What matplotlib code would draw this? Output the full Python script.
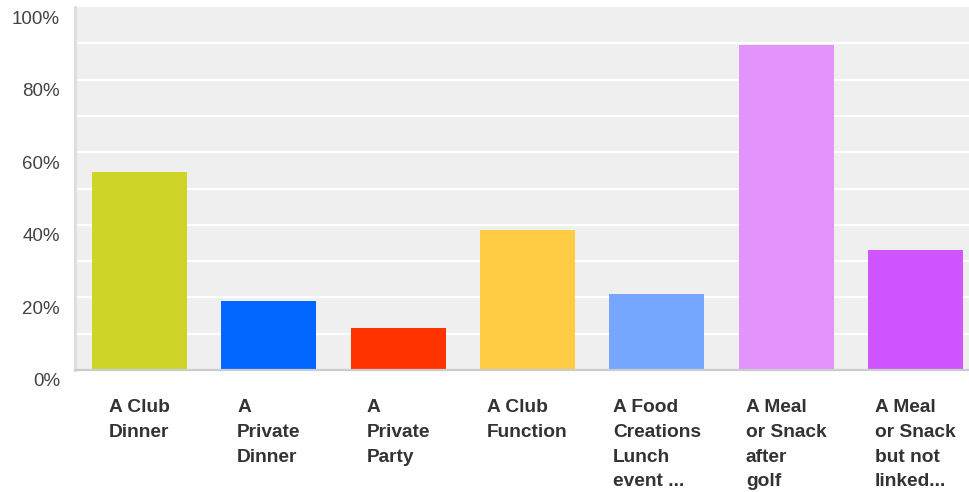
import matplotlib.pyplot as plt
from matplotlib.transforms import offset_copy

# answer options and share of respondents (%)
categories = ['A Club\nDinner', 'A\nPrivate\nDinner', 'A\nPrivate\nParty',
              'A Club\nFunction', 'A Food\nCreations\nLunch\nevent ...',
              'A Meal\nor Snack\nafter\ngolf', 'A Meal\nor Snack\nbut not\nlinked...']
values = [54.5, 19.0, 11.6, 38.6, 20.9, 89.5, 33.1]
colors = ['#cfd428', '#0066ff', '#ff3300', '#ffcc44', '#77a6ff', '#e293fc', '#d155ff']
yticks = [0, 20, 40, 60, 80, 100]
ytick_labels = ['0%', '20%', '40%', '60%', '80%', '100%']

plt.rcParams['font.family'] = ['Liberation Sans', 'DejaVu Sans']

fig = plt.figure(figsize=(9.69, 4.92), dpi=100)
ax = fig.add_axes([75 / 969, 122 / 492, 905 / 969, 363 / 492])
ax.set_facecolor('#efefef')

x = range(len(values))
ax.bar(x, values, width=0.735, color=colors, zorder=3)

ax.set_xlim(-0.5, len(values) - 0.5)
ax.set_ylim(0, 100)

# white gridlines every 10%
for g in range(10, 100, 10):
    ax.axhline(g, color='white', lw=1.6, zorder=1)

for side in ['top', 'right']:
    ax.spines[side].set_visible(False)
ax.spines['left'].set_color('#dddddd')
ax.spines['left'].set_linewidth(2.0)
ax.spines['bottom'].set_color('#cccccc')
ax.spines['bottom'].set_linewidth(1.6)
ax.spines['bottom'].set_zorder(4)

ax.set_xticks([])
ax.set_yticks([])

# y labels sit a little below their gridline
tr = offset_copy(ax.get_yaxis_transform(), fig=fig, x=-15, y=-12, units='dots')
for t, lab in zip(yticks, ytick_labels):
    ax.text(0, t, lab, transform=tr, ha='right', va='center',
            fontsize=13.5, color='#444444')

# category labels, block centred under bar, lines left-aligned
trx = offset_copy(ax.get_xaxis_transform(), fig=fig, x=0, y=-29, units='dots')
for i, lab in enumerate(categories):
    ax.text(i, 0, lab, transform=trx, ha='center', va='top', multialignment='left',
            fontsize=13.8, fontweight='bold', color='#333333', linespacing=1.6)

fig.savefig('out.png', dpi=100)
